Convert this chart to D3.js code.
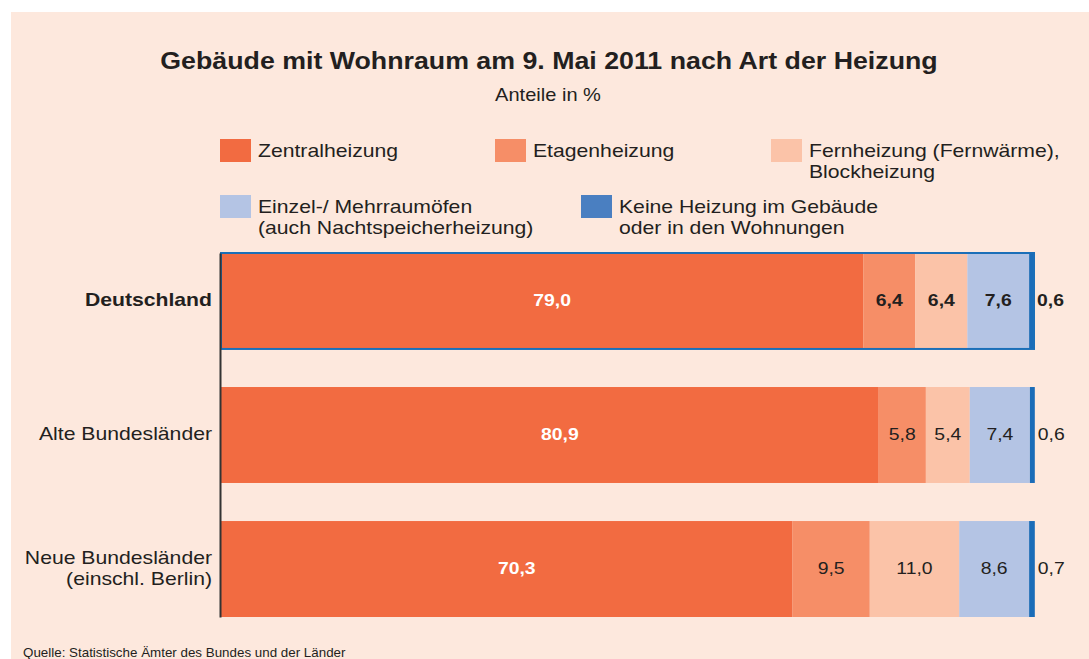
<!DOCTYPE html>
<html>
<head>
<meta charset="utf-8">
<script src="https://cdn.jsdelivr.net/npm/d3@7"></script>
<style>
  body { margin: 0; background: #fff; }
  svg { display: block; font-family: "Liberation Sans", Arial, sans-serif; }
</style>
</head>
<body>
<div id="chart"></div>
<script>
// data
const regions = ['Deutschland', 'Alte Bundesländer', 'Neue Bundesländer|(einschl. Berlin)'];
const heatingTypes = ['Zentralheizung', 'Etagenheizung', 'Fernheizung', 'Einzelöfen', 'Keine'];
const legendLabels = [
  ['Zentralheizung'],
  ['Etagenheizung'],
  ['Fernheizung (Fernwärme),', 'Blockheizung'],
  ['Einzel-/ Mehrraumöfen', '(auch Nachtspeicherheizung)'],
  ['Keine Heizung im Gebäude', 'oder in den Wohnungen']
];
const zentral = [79.0, 80.9, 70.3];
const etagen = [6.4, 5.8, 9.5];
const fern = [6.4, 5.4, 11.0];
const einzel = [7.6, 7.4, 8.6];
const keine = [0.6, 0.6, 0.7];

const width = 1089;
const height = 659;
const sx = 1.115; // text in the original is a bit wider than Liberation Sans

const barColors = ['#f26b41', '#f68e67', '#fbc3a8', '#b4c4e4', '#1a6cb8'];
const legendColors = ['#f26b41', '#f68e67', '#fbc3a8', '#b4c4e4', '#4a7fc1'];

const svg = d3.select('#chart')
  .append('svg')
  .attr('width', width)
  .attr('height', height);

// text placed with a horizontal stretch
function addText(parent, px, py, size, lines, opts = {}) {
  const t = parent.append('text')
    .attr('transform', `translate(${px},${py}) scale(${opts.scale || sx},1)`)
    .attr('text-anchor', opts.anchor || 'start')
    .style('font-size', size + 'px')
    .style('font-weight', opts.bold ? 'bold' : 'normal')
    .attr('fill', opts.fill || '#231f20');
  lines.forEach((l, j) => {
    t.append('tspan').attr('x', 0).attr('dy', j ? (opts.lh || 21) : 0).text(l);
  });
  return t;
}

// panel background
svg.append('rect')
  .attr('x', 11).attr('y', 12)
  .attr('width', width - 11).attr('height', height - 12)
  .attr('fill', '#fde8dd');

addText(svg, 549, 69, 24, ['Gebäude mit Wohnraum am 9. Mai 2011 nach Art der Heizung'],
  { anchor: 'middle', bold: true });
addText(svg, 548, 101, 18, ['Anteile in %'], { anchor: 'middle' });

// legend
const legendPos = [[220, 139], [495, 139], [771, 139], [220, 195], [581, 195]];
const legend = svg.append('g');
legendLabels.forEach((lines, i) => {
  const [lx, ly] = legendPos[i];
  legend.append('rect')
    .attr('x', lx).attr('y', ly)
    .attr('width', 31).attr('height', 23)
    .attr('fill', legendColors[i]);
  addText(legend, lx + 38, ly + 18, 19, lines);
});

// stacked bars
const rows = regions.map((r, i) => ({
  region: r,
  Zentralheizung: zentral[i],
  Etagenheizung: etagen[i],
  Fernheizung: fern[i],
  'Einzelöfen': einzel[i],
  Keine: keine[i]
}));

const x = d3.scaleLinear().domain([0, 100]).range([221, 1034]);
const y = d3.scaleBand().domain(regions).range([253, 617]).paddingInner(0.284);

const stack = d3.stack().keys(heatingTypes)(rows);

const layers = svg.selectAll('g.layer')
  .data(stack)
  .enter()
  .append('g')
  .attr('class', 'layer')
  .attr('fill', (d, i) => barColors[i]);

layers.selectAll('rect')
  .data(d => d)
  .enter()
  .append('rect')
  .attr('x', d => x(d[0]))
  .attr('y', d => y(d.data.region))
  .attr('width', d => x(d[1]) - x(d[0]))
  .attr('height', y.bandwidth());

// outline of Deutschland bar
svg.append('rect')
  .attr('x', x(0))
  .attr('y', y(regions[0]))
  .attr('width', x(100) - x(0))
  .attr('height', y.bandwidth())
  .attr('fill', 'none')
  .attr('stroke', '#1b6fb8')
  .attr('stroke-width', 2);

// value labels
stack.forEach((layer, k) => {
  layer.forEach((d, i) => {
    const val = d[1] - d[0];
    const last = k === heatingTypes.length - 1;
    const cx = last ? x(d[1]) + 3 : (x(d[0]) + x(d[1])) / 2 + (k === 0 ? 10 : 0);
    addText(svg, cx, y(d.data.region) + y.bandwidth() / 2 + 5, 17,
      [d3.format('.1f')(val).replace('.', ',')],
      {
        anchor: last ? 'start' : 'middle',
        bold: k === 0 || i === 0,
        fill: k === 0 ? '#fff' : '#231f20',
        scale: 1.14
      });
  });
});

// category axis
const axis = svg.append('g')
  .attr('transform', 'translate(220,0)')
  .call(d3.axisLeft(y).tickSize(0).tickFormat(''));
axis.select('.domain')
  .attr('stroke', '#333')
  .attr('stroke-width', 2);

regions.forEach((r, i) => {
  const lines = r.split('|');
  addText(svg, 212, y(r) + y.bandwidth() / 2 + 5 - (lines.length - 1) * 10.5, 19, lines,
    { anchor: 'end', bold: i === 0 });
});

addText(svg, 23, 657, 12.5, ['Quelle: Statistische Ämter des Bundes und der Länder'], { scale: 1.07 });
</script>
</body>
</html>
